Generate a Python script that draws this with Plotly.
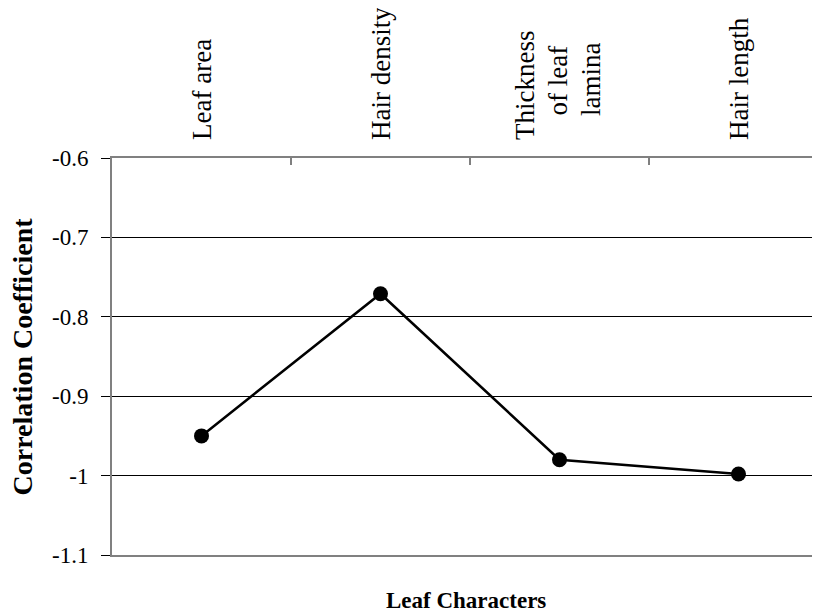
import plotly.graph_objects as go

categories = ["Leaf area", "Hair density", "Thickness<br>of leaf<br>lamina", "Hair length"]
values = [-0.95, -0.771, -0.98, -0.998]
y_ticks = [-0.6, -0.7, -0.8, -0.9, -1.0, -1.1]
y_tick_labels = ["-0.6", "-0.7", "-0.8", "-0.9", "-1", "-1.1"]

font_family = "Liberation Serif, Times New Roman, serif"

fig = go.Figure()
fig.add_trace(go.Scatter(
    x=list(range(len(categories))), y=values, mode="lines+markers",
    line=dict(color="black", width=2.5),
    marker=dict(color="black", size=15, symbol="circle"),
    showlegend=False, cliponaxis=False,
))

annotations = []
line_gap = 33
for i, name in enumerate(categories):
    lines = name.split("<br>")
    n = len(lines)
    for j, ln in enumerate(lines):
        xs = (j - (n - 1) / 2) * line_gap - (2 if n > 1 else 0)
        ys = 16 if (n == 1 or j == 0) else 40
        annotations.append(dict(
            text=ln, xref="x", yref="paper", x=i, y=1,
            xanchor="center", yanchor="bottom", yshift=ys, xshift=xs,
            textangle=-90, showarrow=False,
            font=dict(size=27, family=font_family, color="black"),
        ))
annotations.append(dict(
    text="<b>Leaf Characters</b>", xref="paper", yref="paper",
    x=(458 - 104) / 716, y=-45 / 397, xanchor="center", yanchor="middle",
    showarrow=False, font=dict(size=23, family=font_family, color="black"),
))
annotations.append(dict(
    text="<b>Correlation Coefficient</b>", xref="paper", yref="paper",
    x=0, y=0.5, xanchor="center", yanchor="middle", xshift=-90,
    textangle=-90, showarrow=False,
    font=dict(size=28, family=font_family, color="black"),
))

fig.update_layout(
    width=820, height=615,
    margin=dict(l=104, r=0, t=150, b=68),
    plot_bgcolor="white", paper_bgcolor="white",
    font=dict(family=font_family, size=23, color="black"),
    xaxis=dict(
        side="top",
        range=[-0.5, 3.5],
        showgrid=False, zeroline=False, showticklabels=False,
        showline=True, linecolor="#808080", linewidth=2, mirror=True,
        ticks="",
    ),
    yaxis=dict(
        range=[-1.1, -0.6],
        tickmode="array", tickvals=y_ticks, ticktext=y_tick_labels,
        showgrid=True, gridcolor="black", gridwidth=1,
        zeroline=False,
        showline=True, linecolor="#808080", linewidth=2,
        ticks="outside", ticklen=9, tickcolor="black",
        tickfont=dict(size=23),
        ticklabelstandoff=8,
    ),
    annotations=annotations,
)

# category boundary ticks on top (between categories)
for b in [0.5, 1.5, 2.5]:
    fig.add_shape(type="line", xref="x", yref="paper", x0=b, x1=b, y0=1, y1=1 - 7 / 397,
                  line=dict(color="black", width=1))

fig.write_html("out.html")
